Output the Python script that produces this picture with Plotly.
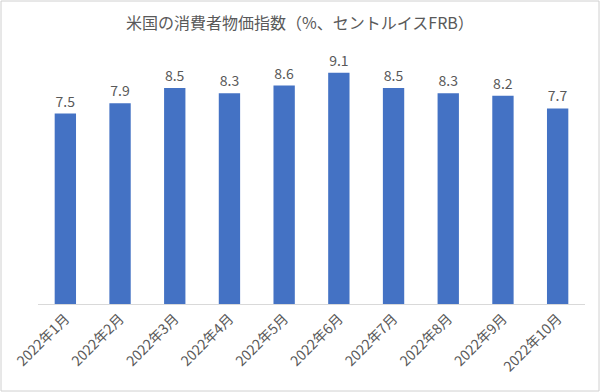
import plotly.graph_objects as go

months = ["2022年1月", "2022年2月", "2022年3月", "2022年4月", "2022年5月",
          "2022年6月", "2022年7月", "2022年8月", "2022年9月", "2022年10月"]
cpi = [7.5, 7.9, 8.5, 8.3, 8.6, 9.1, 8.5, 8.3, 8.2, 7.7]
title_text = "米国の消費者物価指数（%、セントルイスFRB）"

W, H = 600, 392
L, R, T, B = 38, 15, 50, 88
pw, ph = W - L - R, H - T - B

fig = go.Figure(go.Bar(
    x=months, y=cpi,
    marker=dict(color="#4472C4", line=dict(width=0)),
    text=[f"{v:.1f}" for v in cpi], textposition="outside",
    textfont=dict(size=14, color="#595959"),
    cliponaxis=False, width=0.39,
))

fig.update_layout(
    width=W, height=H,
    margin=dict(l=L, r=R, t=T, b=B, autoexpand=False),
    paper_bgcolor="white", plot_bgcolor="white",
    font=dict(family="Noto Sans CJK JP, Noto Sans, sans-serif", color="#595959"),
    title=dict(text=title_text, x=0.5, xanchor="center", y=1 - 23 / H, yanchor="middle",
               font=dict(size=16, color="#595959")),
    showlegend=False,
    xaxis=dict(tickangle=-45, tickfont=dict(size=14, color="#595959"),
               showline=True, linecolor="#D9D9D9", linewidth=1, ticks="",
               showgrid=False, automargin=False, fixedrange=True),
    yaxis=dict(range=[0, 10], visible=False, showgrid=False, automargin=False,
               fixedrange=True),
    shapes=[dict(type="rect", xref="paper", yref="paper",
                 x0=(1 - L) / pw, x1=(W - 1 - L) / pw,
                 y0=-(H - 1 - T - ph) / ph, y1=1 + (T - 1) / ph,
                 line=dict(color="#D0D0D0", width=1), fillcolor="rgba(0,0,0,0)")],
)

fig.write_html("out.html", config={"displayModeBar": False},
               post_script="document.body.style.margin='0';document.body.style.overflow='hidden';")
